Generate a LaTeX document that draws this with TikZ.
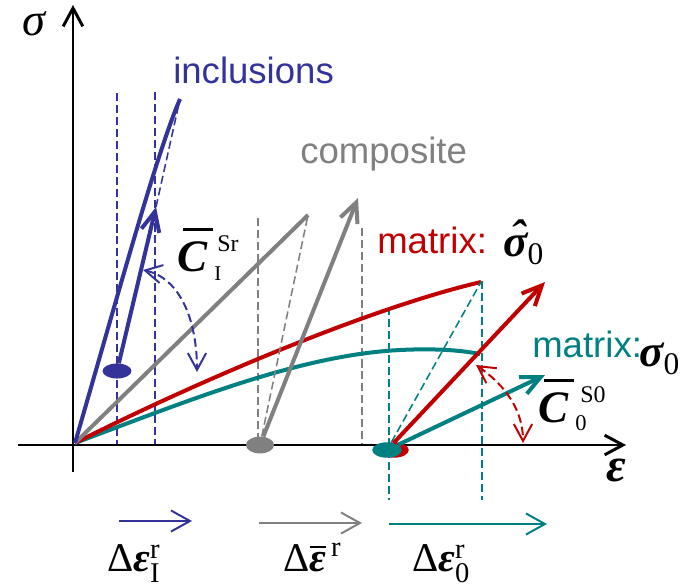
\documentclass[tikz,border=0pt]{standalone}
\usepackage{fontspec}
\usepackage{amsmath}
\setmainfont{Liberation Serif}
\setsansfont{Liberation Sans}
\usetikzlibrary{arrows.meta, shapes.geometric}
\definecolor{cincl}{HTML}{333399}
\definecolor{ccomp}{HTML}{808080}
\definecolor{cmatr}{HTML}{C00000}
\definecolor{cteal}{HTML}{008080}
\newcommand{\barC}{{\bfseries\itshape\rlap{\kern0.13em\rule[0.88em]{0.67em}{0.065em}}C}}
\tikzset{
  axis/.style={line width=2.1pt, -{Straight Barb[length=13pt, width=14pt]}},
  curve/.style={draw=#1, line width=2.85pt},
  vec/.style={draw=#1, line width=2.85pt, -{Straight Barb[length=14pt, width=13pt]}},
  guide/.style={draw=#1, line width=1.1pt, dash pattern=on 5.7pt off 2.8pt},
  swing/.style={draw=#1, line width=1.4pt, dash pattern=on 6pt off 3pt,
    {Straight Barb[length=12pt, width=13pt]}-{Straight Barb[length=12pt, width=13pt]}},
  dstrain/.style={draw=#1, line width=1.4pt, -{Straight Barb[length=13.5pt, width=15pt]}},
  blob/.style={ellipse, fill=#1, inner sep=0pt, minimum width=21pt, minimum height=11pt},
  word/.style={font=\sffamily\fontsize{26}{26}\selectfont, text=#1, anchor=base west, inner sep=0pt},
  sym/.style={font=\fontsize{#1}{#1}\selectfont, anchor=base west, inner sep=0pt},
}

\begin{document}
\begin{tikzpicture}[x=0.025cm, y=-0.025cm]
\useasboundingbox (0,0) rectangle (692,587);
  \coordinate (O) at (75,443);
  \coordinate (Itop) at (180,99);
  \coordinate (Itip) at (156,207);
  \coordinate (Ctop) at (308,215);
  \coordinate (Ctip) at (358,198);
  \coordinate (Mtop) at (481,282);
  \coordinate (Mtip) at (545,282);
  \coordinate (Ttip) at (545,375);
  % guides
  \draw[guide=cincl] (117,93) -- (117,446);
  \draw[guide=cincl] (155,92) -- (155,446);
  \draw[guide=ccomp] (258,218) -- (258,446);
  \draw[guide=ccomp] (362,228) -- (362,446);
  \draw[guide=cteal] (389,307) -- (389,500);
  \draw[guide=cteal] (482,281) -- (482,500);
  % axes
  \coordinate (xs) at (18,445);
  \coordinate (xe) at (626,445);
  \coordinate (ys) at (73,472);
  \coordinate (ye) at (73,5);
  \draw[axis] (xs) -- (xe);
  \draw[axis] (ys) -- (ye);
  \node[sym=33] (sig) at (22,35) {\itshape σ};
  \node[sym=34] (eps) at (606,481) {\bfseries\itshape ε};
  % stress-strain curves
  \draw[curve=cteal] (O) .. controls (190,400) and (300,355) .. (400,350)
    .. controls (440,348) and (465,351) .. (480,354);
  \draw[curve=cmatr] (O) .. controls (200,380) and (370,308) .. (Mtop);
  \draw[curve=ccomp] (O) -- (Ctop);
  \draw[curve=cincl] (O) .. controls (125,270) and (158,150) .. (Itop);
  % residual states
  \node[blob=cincl, minimum width=20.6pt, minimum height=10.7pt] (eI) at (117,371) {};
  \node[blob=ccomp, minimum width=20pt, minimum height=12pt] (eC) at (260,445) {};
  \node[blob=cmatr] (eR) at (394,450) {};
  \node[blob=cteal] (e0) at (387,450) {};
  \draw[guide=cincl] (Itip) -- (Itop);
  \draw[guide=ccomp] (eC) -- (Ctop);
  \draw[guide=cteal] (e0) -- (Mtop);
  \draw[vec=cincl] (eI) -- (Itip);
  \draw[vec=ccomp] (eC) -- (Ctip);
  \draw[vec=cmatr] (e0) -- (Mtip);
  \draw[vec=cteal] (e0) -- (Ttip);
  \draw[swing=cincl] (143,270) .. controls (180,278) and (197,320) .. (197,372);
  \draw[swing=cmatr] (476,365) .. controls (505,385) and (523,410) .. (523,443);
  % labels
  \node[word=cincl] (tI) at (173,83) {inclusions};
  \node[word=ccomp] (tC) at (300,163) {composite};
  \node[word=cmatr] (tM) at (377,253) {matrix:};
  \node[sym=32] (sM) at (503,256) {{\bfseries\itshape\ooalign{σ\cr\hidewidth\kern0.1em\raisebox{0.1em}{ˆ}\hidewidth\cr}}$_{\text{0}}$};
  \node[word=cteal] (tT) at (532,357) {matrix:};
  \node[sym=32] (sT) at (639,366) {{\bfseries\itshape σ}$_{\text{0}}$};
  \node[sym=32] (CI) at (177,271) {\barC};
  \node[sym=17] (CIs) at (217,251) {Sr};
  \node[sym=15] (CIi) at (214,280) {I};
  \node[sym=32] (C0) at (538,422) {\barC};
  \node[sym=17] (C0s) at (580,402) {S0};
  \node[sym=16] (C0i) at (575,430) {0};
  % strain increments
  \coordinate (aI) at (119,521); \coordinate (bI) at (192,521);
  \coordinate (aC) at (259,523); \coordinate (bC) at (362,523);
  \coordinate (a0) at (389,524); \coordinate (b0) at (547,524);
  \draw[dstrain=cincl] (aI) -- (bI);
  \draw[dstrain=ccomp] (aC) -- (bC);
  \draw[dstrain=cteal] (a0) -- (b0);
  \node[sym=29] (dI) at (107,571) {Δ{\bfseries\itshape ε}$^{\text{r}}_{\text{I}}$};
  \node[sym=29] (dC) at (283,571) {Δ$\overline{\hbox{\bfseries\itshape ε}}^{\,\text{r}}$};
  \node[sym=29] (d0) at (412,571) {Δ{\bfseries\itshape ε}$^{\text{r}}_{\text{0}}$};
\end{tikzpicture}
\end{document}
